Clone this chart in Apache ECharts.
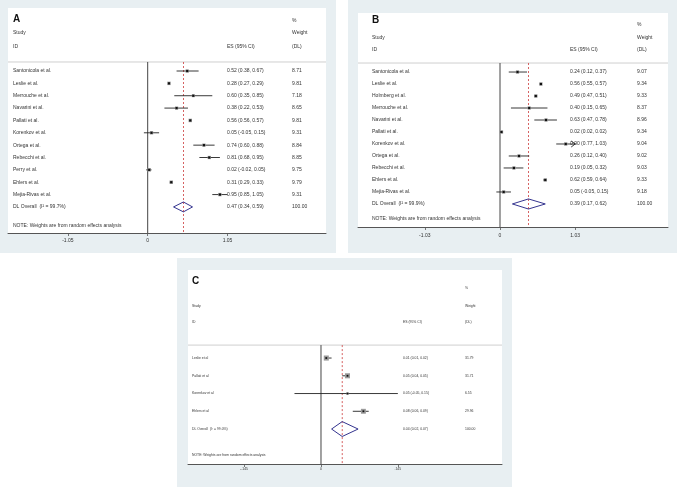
<!DOCTYPE html>
<html><head><meta charset="utf-8">
<script src="https://cdn.jsdelivr.net/npm/echarts@6/dist/echarts.min.js"></script>
<style>html,body{margin:0;padding:0;background:#fff}#c{width:677px;height:487px}</style>
</head><body><div id="c"></div>
<script>
// ---------- DATA ----------
const aNames = ['Santonicola et al.','Leslie et al.','Merrouche et al.','Navarini et al.','Pallati et al.','Korenkov et al.','Ortega et al.','Rebecchi et al.','Perry et al.','Ehlers et al.','Mejia-Rivas et al.'];
const aEs = [0.52,0.28,0.60,0.38,0.56,0.05,0.74,0.81,0.02,0.31,0.95];
const aLo = [0.38,0.27,0.35,0.22,0.56,-0.05,0.60,0.68,-0.02,0.29,0.85];
const aHi = [0.67,0.29,0.85,0.53,0.57,0.15,0.88,0.95,0.05,0.33,1.05];
const aW  = [8.71,9.81,7.18,8.65,9.81,9.31,8.84,8.85,9.75,9.79,9.31];
const aOverall = [0.47,0.34,0.59];
const aI2 = '99.7%';
const aTickValues = [-1.05,0,1.05];
const aTickLabels = ['-1.05','0','1.05'];

const bNames = ['Santonicola et al.','Leslie et al.','Holmberg et al.','Merrouche et al.','Navarini et al.','Pallati et al.','Korenkov et al.','Ortega et al.','Rebecchi et al.','Ehlers et al.','Mejia-Rivas et al.'];
const bEs = [0.24,0.56,0.49,0.40,0.63,0.02,0.90,0.26,0.19,0.62,0.05];
const bLo = [0.12,0.55,0.47,0.15,0.47,0.02,0.77,0.12,0.05,0.59,-0.05];
const bHi = [0.37,0.57,0.51,0.65,0.78,0.02,1.034,0.40,0.32,0.64,0.15];
const bW  = [9.07,9.34,9.33,8.37,8.96,9.34,9.04,9.02,9.03,9.33,9.18];
const bOverall = [0.39,0.17,0.62];
const bI2 = '99.9%';
const bTickValues = [-1.03,0,1.03];
const bTickLabels = ['-1.03','0','1.03'];

const cNames = ['Leslie et al','Pallati et al','Korenkov et al','Ehlers et al'];
const cEs = [0.01,0.05,0.05,0.08];
const cLo = [0.01,0.04,-0.05,0.06];
const cHi = [0.02,0.05,0.15,0.09];
const cW  = [31.79,31.71,6.55,29.96];
const cOverall = [0.04,0.02,0.07];
const cI2 = '99.0%';
const cTickValues = [-0.145,0,0.145];
const cTickLabels = ['-.145','0','.145'];

// ---------- LAYOUT ----------
const FONT = "'Liberation Sans', Arial, sans-serif";
const panels = [
  {key:'A', names:aNames, es:aEs, lo:aLo, hi:aHi, w:aW, overall:aOverall, i2:aI2, tv:aTickValues, tl:aTickLabels,
   L:{grid:{left:8,top:8,width:318,height:225}, outer:[0,0,336,253], x:[-1.838,2.346], y:[-4.10,14.11],
      rows:{pct:-3.05,study:-2.07,id:-0.94,sep:0.27,note:13.54}, cols:[5,219,284], font:5, tickMargin:5,
      title:{left:13,top:14}, boxScale:1.1, dot:2.2, arrow:false, dh:0.4}},
  {key:'B', names:bNames, es:bEs, lo:bLo, hi:bHi, w:bW, overall:bOverall, i2:bI2, tv:bTickValues, tl:bTickLabels,
   L:{grid:{left:358,top:13,width:310,height:214}, outer:[348,0,329,253], x:[-1.945,2.301], y:[-3.92,13.92],
      rows:{pct:-2.92,study:-1.83,id:-0.83,sep:0.25,note:13.25}, cols:[14,212,279], font:5, tickMargin:6,
      title:{left:372,top:15}, boxScale:1.1, dot:2.2, arrow:true, dh:0.42}},
  {key:'C', names:cNames, es:cEs, lo:cLo, hi:cHi, w:cW, overall:cOverall, i2:cI2, tv:cTickValues, tl:cTickLabels,
   L:{grid:{left:188,top:270,width:314,height:194}, outer:[177,258,335,229], x:[-0.2509,0.3415], y:[-3.96,6.97],
      rows:{pct:-2.94,study:-1.93,id:-1.03,sep:0.27,note:6.46}, cols:[4,215,277], font:3.4, tickMargin:4,
      title:{left:192,top:276}, boxScale:0.9, dot:1.8, arrow:false, dh:0.42}}
];

function lookup(vals, txts, v){
  for (let i=0;i<vals.length;i++){ if (Math.abs(vals[i]-v) < 1e-7) return txts[i]; }
  return '';
}
const TXT = '#333';

const option = {animation:false, backgroundColor:'#fff', grid:[], xAxis:[], yAxis:[], series:[], title:[], graphic:[]};

panels.forEach((p, pi) => {
  const L = p.L, n = p.names.length;
  option.graphic.push({type:'rect', z:-100, silent:true,
    shape:{x:L.outer[0], y:L.outer[1], width:L.outer[2], height:L.outer[3]}, style:{fill:'#e8eff2'}});
  option.grid.push({left:L.grid.left, top:L.grid.top, width:L.grid.width, height:L.grid.height,
    show:true, backgroundColor:'#fff', borderWidth:0});
  option.title.push({text:p.key, left:L.title.left, top:L.title.top, padding:0,
    textStyle:{fontSize:10, fontWeight:'bold', color:'#111', fontFamily:FONT}});
  option.xAxis.push({gridIndex:pi, type:'value', min:L.x[0], max:L.x[1], position:'bottom',
    splitLine:{show:false},
    axisLine:{show:true, onZero:false, lineStyle:{color:'#555', width:1}},
    axisTick:{show:true, length:3, customValues:p.tv, lineStyle:{color:'#555', width:0.8}},
    axisLabel:{customValues:p.tv, formatter:(v)=>lookup(p.tv,p.tl,v), fontSize:L.font, color:TXT,
      margin:L.tickMargin, fontFamily:FONT}});

  const rowIdx = p.names.map((_, i) => i + 1);
  const fmt = (x) => x.toFixed(2);
  const esTxt = p.es.map((e, i) => fmt(e) + ' (' + fmt(p.lo[i]) + ', ' + fmt(p.hi[i]) + ')');
  const ovTxt = fmt(p.overall[0]) + ' (' + fmt(p.overall[1]) + ', ' + fmt(p.overall[2]) + ')';
  const columns = [
    {vals:[L.rows.study, L.rows.id, ...rowIdx, n + 1, L.rows.note],
     txts:['Study', 'ID', ...p.names, 'DL Overall  (I\u00B2 = ' + p.i2 + ')', 'NOTE: Weights are from random effects analysis']},
    {vals:[L.rows.id, ...rowIdx, n + 1], txts:['ES (95% CI)', ...esTxt, ovTxt]},
    {vals:[L.rows.pct, L.rows.study, L.rows.id, ...rowIdx, n + 1],
     txts:['%', 'Weight', '(DL)', ...p.w.map(fmt), '100.00']}
  ];
  columns.forEach((col, ci) => {
    option.yAxis.push({gridIndex:pi, type:'value', inverse:true, min:L.y[0], max:L.y[1],
      position:'left', offset:-L.cols[ci],
      axisLine:{show:false, onZero:false}, axisTick:{show:false}, splitLine:{show:false},
      axisLabel:{show:true, inside:true, margin:0, align:'left', customValues:col.vals,
        formatter:(v)=>lookup(col.vals, col.txts, v), fontSize:L.font, color:TXT, fontFamily:FONT}});
  });
  const yi = pi * 3;
  const clip = [p.tv[0], p.tv[p.tv.length - 1]];

  // reference lines
  option.series.push({type:'custom', xAxisIndex:pi, yAxisIndex:yi, silent:true, z:1,
    data:[[p.overall[0], L.rows.sep]],
    renderItem:(params, api) => {
      const ov = api.value(0), sep = api.value(1);
      const z1 = api.coord([0, sep]), z2 = api.coord([0, L.y[1]]);
      const d1 = api.coord([ov, sep]), d2 = api.coord([ov, L.y[1]]);
      const s1 = api.coord([L.x[0], sep]), s2 = api.coord([L.x[1], sep]);
      return {type:'group', children:[
        {type:'line', shape:{x1:s1[0], y1:s1[1], x2:s2[0], y2:s2[1]}, style:{stroke:'#cfcfcf', lineWidth:1}},
        {type:'line', shape:{x1:z1[0], y1:z1[1], x2:z2[0], y2:z2[1]}, style:{stroke:'#444', lineWidth:1}},
        {type:'line', shape:{x1:d1[0], y1:d1[1], x2:d2[0], y2:d2[1]}, style:{stroke:'#cc3b3b', lineWidth:0.8, lineDash:[2,2]}}
      ]};
    }});

  // studies
  option.series.push({type:'custom', xAxisIndex:pi, yAxisIndex:yi, silent:true, z:3,
    data:p.es.map((e, i) => [e, i + 1, p.lo[i], p.hi[i], p.w[i]]),
    renderItem:(params, api) => {
      const e = api.value(0), r = api.value(1), lo = api.value(2), hi = api.value(3), w = api.value(4);
      const c = api.coord([e, r]);
      const a = api.coord([Math.max(lo, clip[0]), r]);
      const b = api.coord([Math.min(hi, clip[1]), r]);
      const ch = [{type:'line', shape:{x1:a[0], y1:a[1], x2:b[0], y2:b[1]}, style:{stroke:'#222', lineWidth:0.9}}];
      if (L.arrow && hi > clip[1]) {
        ch.push({type:'polyline', shape:{points:[[b[0]-4, b[1]-3], [b[0], b[1]], [b[0]-4, b[1]+3]]},
          style:{stroke:'#222', fill:null, lineWidth:0.9}});
      }
      const s = L.boxScale * Math.sqrt(w);
      ch.push({type:'rect', shape:{x:c[0]-s/2, y:c[1]-s/2, width:s, height:s}, style:{fill:'#9a9a9a'}});
      ch.push({type:'rect', shape:{x:c[0]-L.dot/2, y:c[1]-L.dot/2, width:L.dot, height:L.dot}, style:{fill:'#111'}});
      return {type:'group', children:ch};
    }});

  // overall diamond
  option.series.push({type:'custom', xAxisIndex:pi, yAxisIndex:yi, silent:true, z:3,
    data:[[p.overall[0], n + 1, p.overall[1], p.overall[2]]],
    renderItem:(params, api) => {
      const e = api.value(0), r = api.value(1), lo = api.value(2), hi = api.value(3);
      const pts = [api.coord([lo, r]), api.coord([e, r - L.dh]), api.coord([hi, r]), api.coord([e, r + L.dh])];
      return {type:'polygon', shape:{points:pts}, style:{stroke:'#34348f', fill:null, lineWidth:1}};
    }});
});

const chart = echarts.init(document.getElementById('c'), null, {renderer:'canvas'});
chart.setOption(option);
</script>
</body></html>
